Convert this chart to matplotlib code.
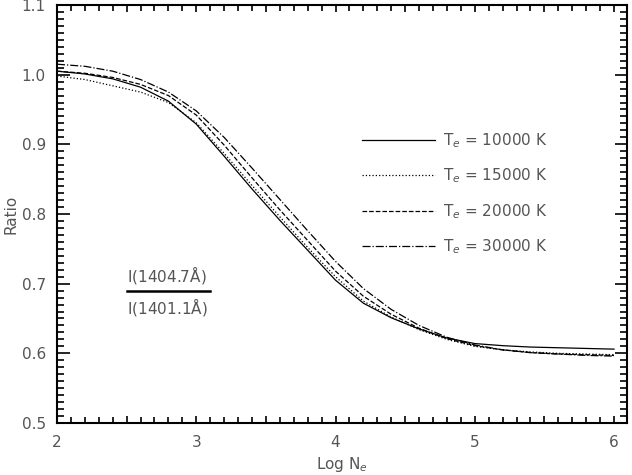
import matplotlib
matplotlib.use('Agg')
import matplotlib.pyplot as plt
from matplotlib.ticker import MultipleLocator, FuncFormatter

log_ne = [2.0, 2.2, 2.4, 2.6, 2.8, 3.0, 3.2, 3.4, 3.6, 3.8, 4.0,
          4.2, 4.4, 4.6, 4.8, 5.0, 5.2, 5.4, 5.6, 5.8, 6.0]

ratio_10000 = [1.005, 1.001, 0.994, 0.982, 0.962, 0.929, 0.883, 0.836, 0.791, 0.748, 0.705,
               0.672, 0.651, 0.635, 0.622, 0.614, 0.611, 0.609, 0.608, 0.607, 0.606]
ratio_15000 = [0.998, 0.993, 0.984, 0.975, 0.960, 0.931, 0.887, 0.841, 0.796, 0.752, 0.710,
               0.675, 0.652, 0.634, 0.620, 0.610, 0.605, 0.602, 0.600, 0.599, 0.598]
ratio_20000 = [1.005, 1.002, 0.996, 0.986, 0.970, 0.942, 0.899, 0.852, 0.806, 0.762, 0.718,
               0.682, 0.656, 0.636, 0.621, 0.611, 0.605, 0.601, 0.599, 0.598, 0.597]
ratio_30000 = [1.015, 1.012, 1.005, 0.993, 0.975, 0.948, 0.910, 0.866, 0.821, 0.776, 0.732,
               0.693, 0.663, 0.640, 0.623, 0.612, 0.605, 0.601, 0.599, 0.597, 0.596]

temps = ['10000', '15000', '20000', '30000']
styles = ['-', ':', '--', '-.']

txt = '#555555'

fig = plt.figure(figsize=(6.32, 4.75), dpi=100)
ax = fig.add_axes([0.0902, 0.1095, 0.9018, 0.8800])

series = [ratio_10000, ratio_15000, ratio_20000, ratio_30000]
for vals, ls, t in zip(series, styles, temps):
    ax.plot(log_ne, vals, color='black', linestyle=ls, linewidth=0.9,
            label=r'T$_e$ = ' + t + ' K')

ax.set_xlim(2, 6.093)
ax.set_ylim(0.5, 1.1)

ax.xaxis.set_major_locator(MultipleLocator(0.5))
ax.xaxis.set_minor_locator(MultipleLocator(0.1))
ax.xaxis.set_major_formatter(FuncFormatter(lambda v, p: f'{v:.0f}' if abs(v - round(v)) < 1e-6 else ''))
ax.yaxis.set_major_locator(MultipleLocator(0.1))
ax.yaxis.set_minor_locator(MultipleLocator(0.01))
ax.yaxis.set_major_formatter(FuncFormatter(lambda v, p: f'{v:.1f}'))

ax.tick_params(which='both', direction='in', top=True, right=True, colors='black',
               labelcolor=txt, labelsize=11, width=1.2)
ax.tick_params(axis='x', which='major', length=5, pad=9)
ax.tick_params(axis='x', which='minor', length=4)
ax.tick_params(axis='y', which='major', length=9, pad=8)
ax.tick_params(axis='y', which='minor', length=5)
for s in ax.spines.values():
    s.set_linewidth(1.5)

ax.set_xlabel(r'Log N$_e$', color=txt, fontsize=11, labelpad=3)
ax.set_ylabel('Ratio', color=txt, fontsize=11, labelpad=2)

leg = ax.legend(loc='upper left', bbox_to_anchor=(0.511, 0.731), frameon=False,
                fontsize=11, handlelength=4.8, handletextpad=0.5, labelspacing=1.1)
for t in leg.get_texts():
    t.set_color(txt)

ax.text(0.123, 0.327, r'I(1404.7$\mathrm{\AA}$)', transform=ax.transAxes,
        color=txt, fontsize=11, ha='left', va='bottom')
ax.plot([0.123, 0.268], [0.316, 0.316], transform=ax.transAxes, color='black', linewidth=1.8)
ax.text(0.123, 0.303, r'I(1401.1$\mathrm{\AA}$)', transform=ax.transAxes,
        color=txt, fontsize=11, ha='left', va='top')

fig.savefig('out.png', dpi=100)
